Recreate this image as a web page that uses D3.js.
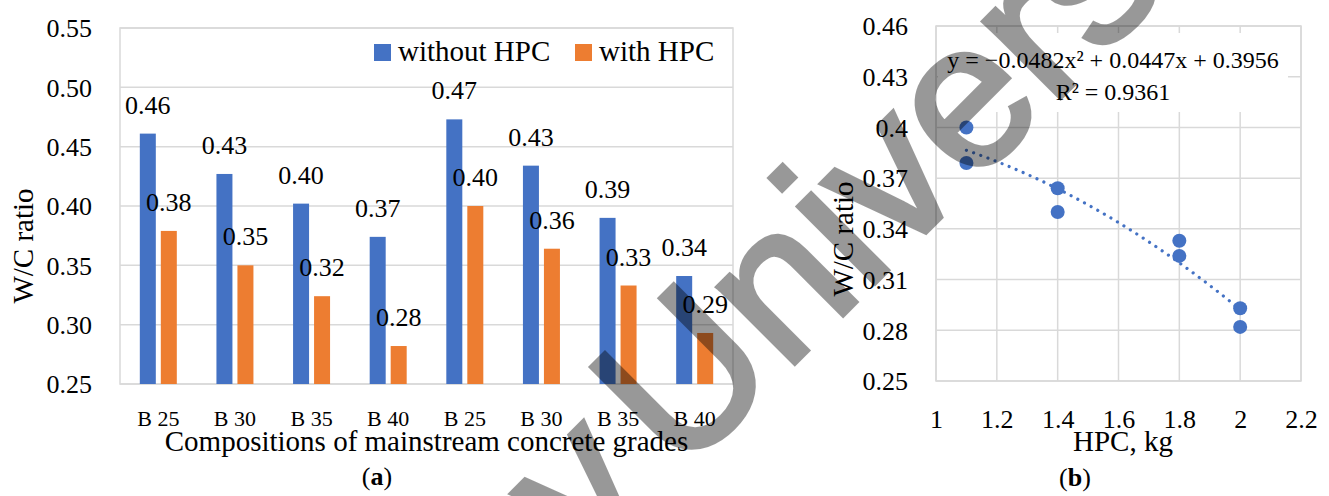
<!DOCTYPE html>
<html>
<head>
<meta charset="utf-8">
<script src="https://cdn.jsdelivr.net/npm/d3@7"></script>
<style>
  html, body { margin: 0; padding: 0; background: #ffffff; }
  svg { display: block; font-family: "Liberation Serif", "Times New Roman", serif; }
</style>
</head>
<body>
<svg id="chart" width="1329" height="496"></svg>
<script>
// ---------- data ----------
const categories = ["B 25", "B 30", "B 35", "B 40", "B 25", "B 30", "B 35", "B 40"];
const seriesNames = ["without HPC", "with HPC"];
const withoutHPC = [0.461, 0.427, 0.402, 0.374, 0.473, 0.434, 0.390, 0.341];
const withHPC    = [0.379, 0.350, 0.324, 0.282, 0.400, 0.364, 0.333, 0.293];
const barYTicks = [0.25, 0.30, 0.35, 0.40, 0.45, 0.50, 0.55];
const barYTickLabels = ["0.25", "0.30", "0.35", "0.40", "0.45", "0.50", "0.55"];

const hpcKg = [1.1, 1.4, 1.8, 2.0, 1.1, 1.4, 1.8, 2.0];
const wcRatio = [0.379, 0.350, 0.324, 0.282, 0.400, 0.364, 0.333, 0.293];
const scatterYTicks = [0.25, 0.28, 0.31, 0.34, 0.37, 0.40, 0.43, 0.46];
const scatterYTickLabels = ["0.25", "0.28", "0.31", "0.34", "0.37", "0.4", "0.43", "0.46"];
const scatterXTicks = [1, 1.2, 1.4, 1.6, 1.8, 2.0, 2.2];
const scatterXTickLabels = ["1", "1.2", "1.4", "1.6", "1.8", "2", "2.2"];
const trendCoef = [-0.0482, 0.0447, 0.3956];   // a, b, c of y = a x² + b x + c
const trendRange = [1.1, 2.0];
const trendLabel = ["y = \u22120.0482x\u00B2 + 0.0447x + 0.3956", "R\u00B2 = 0.9361"];

const texts = {
  yTitle: "W/C ratio",
  xTitleA: "Compositions of mainstream concrete grades",
  xTitleB: "HPC, kg",
  panelA: "a",
  panelB: "b",
  watermarkPre: "y",
  watermark: "University"
};

// ---------- style ----------
const BLUE = "#4472C4", ORANGE = "#ED7D31", GRID = "#d9d9d9";
const colors = [BLUE, ORANGE];

const svg = d3.select("#chart");

// ================= panel (a): bar chart =================
const A = { left: 120, right: 733, top: 28, bottom: 384 };
const x0 = d3.scaleBand().domain(d3.range(categories.length)).range([A.left, A.right]).padding(0);
const bw = x0.bandwidth();
const x1 = d3.scaleBand().domain(seriesNames).range([bw / 2 - 18.5, bw / 2 + 18.5]).paddingInner(5 / 21).paddingOuter(0);
const yA = d3.scaleLinear().domain([0.25, 0.55]).range([A.bottom, A.top]);

const gA = svg.append("g");
gA.append("g").selectAll("line").data(barYTicks).join("line")
  .attr("x1", A.left).attr("x2", A.right)
  .attr("y1", d => yA(d)).attr("y2", d => yA(d))
  .attr("stroke", GRID).attr("stroke-width", 1.5);
gA.append("rect").attr("x", A.left).attr("y", A.top)
  .attr("width", A.right - A.left).attr("height", A.bottom - A.top)
  .attr("fill", "none").attr("stroke", GRID).attr("stroke-width", 1.5);

const yAxisA = d3.axisLeft(yA).tickValues(barYTicks).tickSize(0).tickPadding(0)
  .tickFormat((d, i) => barYTickLabels[i]);
const yAxA = gA.append("g").attr("transform", `translate(92,0)`).call(yAxisA);
yAxA.select(".domain").remove();
yAxA.selectAll("text").attr("font-family", "Liberation Serif").attr("font-size", 26)
  .attr("fill", "#000").attr("dy", "0.34em");

const xAxisA = d3.axisBottom(x0).tickSize(0).tickPadding(0).tickFormat(i => categories[i]);
const xAxA = gA.append("g").attr("transform", `translate(0,426)`).call(xAxisA);
xAxA.select(".domain").remove();
xAxA.selectAll("text").attr("font-family", "Liberation Serif").attr("font-size", 22)
  .attr("fill", "#000").attr("dy", 0);

const barData = [];
categories.forEach((c, i) => {
  barData.push({ i, s: seriesNames[0], v: withoutHPC[i], k: 0 });
  barData.push({ i, s: seriesNames[1], v: withHPC[i], k: 1 });
});
gA.append("g").selectAll("rect").data(barData).join("rect")
  .attr("x", d => x0(d.i) + x1(d.s))
  .attr("width", x1.bandwidth())
  .attr("y", d => yA(d.v))
  .attr("height", d => yA(0.25) - yA(d.v))
  .attr("fill", d => colors[d.k]);

const fmt2 = d3.format(".2f");
gA.append("g").selectAll("text").data(barData).join("text")
  .attr("x", d => x0(d.i) + x1(d.s) + x1.bandwidth() / 2)
  .attr("y", d => yA(d.v) - 20)
  .attr("text-anchor", "middle")
  .attr("font-family", "Liberation Serif")
  .attr("font-size", 26).attr("fill", "#000")
  .text(d => fmt2(d.v));

const leg = gA.append("g");
const legX = [374, 575];
seriesNames.forEach((s, k) => {
  leg.append("rect").attr("x", legX[k]).attr("y", 44).attr("width", 17).attr("height", 17).attr("fill", colors[k]);
  leg.append("text").attr("x", legX[k] + 24).attr("y", 61).attr("font-size", 29).attr("fill", "#000").text(s);
});

gA.append("text").attr("transform", "translate(33,246) rotate(-90)")
  .attr("text-anchor", "middle").attr("font-size", 29).attr("fill", "#000").text(texts.yTitle);
gA.append("text").attr("x", (A.left + A.right) / 2).attr("y", 451)
  .attr("text-anchor", "middle").attr("font-size", 29).attr("fill", "#000").text(texts.xTitleA);
const pa = gA.append("text").attr("x", 377).attr("y", 485).attr("text-anchor", "middle")
  .attr("font-size", 26).attr("fill", "#000");
pa.append("tspan").text("(");
pa.append("tspan").attr("font-weight", "bold").text(texts.panelA);
pa.append("tspan").text(")");

// ================= panel (b): scatter =================
const B = { left: 936, right: 1301, top: 26, bottom: 381 };
const xB = d3.scaleLinear().domain([1, 2.2]).range([B.left, B.right]);
const yB = d3.scaleLinear().domain([0.25, 0.46]).range([B.bottom, B.top]);
const gB = svg.append("g");

gB.append("g").selectAll("line").data(scatterYTicks).join("line")
  .attr("x1", B.left).attr("x2", B.right)
  .attr("y1", d => yB(d)).attr("y2", d => yB(d))
  .attr("stroke", GRID).attr("stroke-width", 1.5);
gB.append("g").selectAll("line").data(scatterXTicks).join("line")
  .attr("x1", d => xB(d)).attr("x2", d => xB(d))
  .attr("y1", B.top).attr("y2", B.bottom)
  .attr("stroke", GRID).attr("stroke-width", 1.5);
gB.append("rect").attr("x", B.left).attr("y", B.top)
  .attr("width", B.right - B.left).attr("height", B.bottom - B.top)
  .attr("fill", "none").attr("stroke", GRID).attr("stroke-width", 1.5);

const yAxisB = d3.axisLeft(yB).tickValues(scatterYTicks).tickSize(0).tickPadding(0)
  .tickFormat((d, i) => scatterYTickLabels[i]);
const yAxB = gB.append("g").attr("transform", "translate(908,0)").call(yAxisB);
yAxB.select(".domain").remove();
yAxB.selectAll("text").attr("font-family", "Liberation Serif").attr("font-size", 26)
  .attr("fill", "#000").attr("dy", "0.34em");

const xAxisB = d3.axisBottom(xB).tickValues(scatterXTicks).tickSize(0).tickPadding(0)
  .tickFormat((d, i) => scatterXTickLabels[i]);
const xAxB = gB.append("g").attr("transform", "translate(0,428)").call(xAxisB);
xAxB.select(".domain").remove();
xAxB.selectAll("text").attr("font-family", "Liberation Serif").attr("font-size", 26)
  .attr("fill", "#000").attr("dy", 0);

// trendline (drawn from the displayed polynomial coefficients)
const trendPts = d3.range(trendRange[0], trendRange[1] + 1e-9, 0.01)
  .map(x => [x, trendCoef[0] * x * x + trendCoef[1] * x + trendCoef[2]]);
gB.append("path").datum(trendPts)
  .attr("d", d3.line().x(d => xB(d[0])).y(d => yB(d[1])))
  .attr("fill", "none").attr("stroke", BLUE).attr("stroke-width", 3.2)
  .attr("stroke-linecap", "round").attr("stroke-dasharray", "0.01 7.6");

gB.append("g").selectAll("circle").data(hpcKg.map((x, i) => [x, wcRatio[i]])).join("circle")
  .attr("cx", d => xB(d[0])).attr("cy", d => yB(d[1])).attr("r", 7)
  .attr("fill", BLUE);

gB.append("rect").attr("x", 938).attr("y", 33).attr("width", 350).attr("height", 79).attr("fill", "#fff");
trendLabel.forEach((t, k) => {
  gB.append("text").attr("x", 1113).attr("y", 68 + k * 32).attr("text-anchor", "middle")
    .attr("font-size", 24).attr("fill", "#000").text(t);
});

gB.append("text").attr("transform", "translate(853,239) rotate(-90)")
  .attr("text-anchor", "middle").attr("font-size", 29).attr("fill", "#000").text(texts.yTitle);
gB.append("text").attr("x", 1123).attr("y", 451)
  .attr("text-anchor", "middle").attr("font-size", 29).attr("fill", "#000").text(texts.xTitleB);
const pb = gB.append("text").attr("x", 1075).attr("y", 486).attr("text-anchor", "middle")
  .attr("font-size", 26).attr("fill", "#000");
pb.append("tspan").text("(");
pb.append("tspan").attr("font-weight", "bold").text(texts.panelB);
pb.append("tspan").text(")");

// ================= watermark overlay =================
const wm = svg.append("g").attr("class", "watermark").attr("opacity", 0.4)
  .attr("transform", "translate(680,478) rotate(-45)")
  .attr("font-family", "Liberation Sans, Arial, sans-serif").attr("font-size", 205);
wm.append("text").attr("x", 0).attr("y", 0).attr("fill", "#000").attr("stroke", "#000")
  .attr("stroke-width", 5).text(texts.watermark);
wm.append("text").attr("x", -28).attr("y", 0).attr("text-anchor", "end").attr("fill", "#000")
  .attr("stroke", "#000").attr("stroke-width", 5).text(texts.watermarkPre);
</script>
</body>
</html>
